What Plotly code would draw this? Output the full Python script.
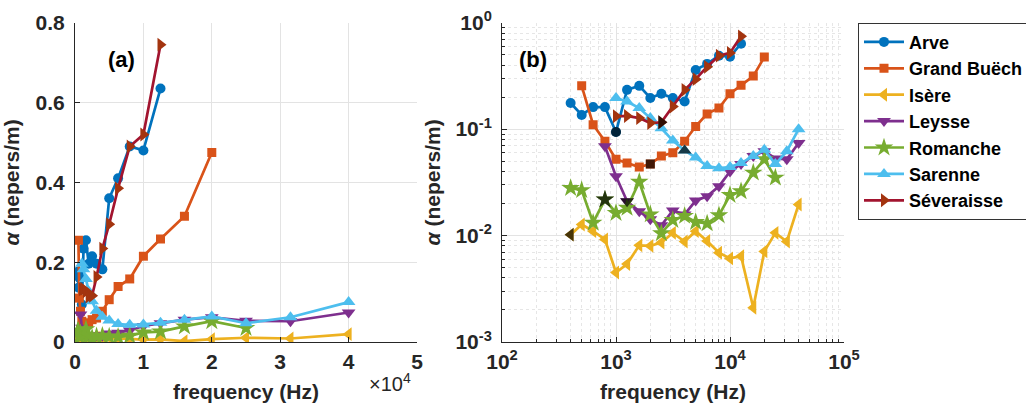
import plotly.graph_objects as go

# ---------------- data ----------------
series_names = ["Arve", "Grand Buëch", "Isère", "Leysse", "Romanche", "Sarenne", "Séveraisse"]

arve_f = [400, 500, 630, 800, 1000, 1250, 1600, 2000, 2500, 3150, 4000, 5000, 6300, 8000, 10000, 12500]
arve_a = [0.176, 0.136, 0.161, 0.161, 0.094, 0.234, 0.255, 0.196, 0.215, 0.196, 0.182, 0.36, 0.41, 0.49, 0.48, 0.635]

gbuech_f = [500, 630, 800, 1000, 1250, 1600, 2000, 2500, 3150, 4000, 5000, 6300, 8000, 10000, 12500, 16000, 20000]
gbuech_a = [0.255, 0.110, 0.077, 0.052, 0.048, 0.044, 0.047, 0.056, 0.060, 0.077, 0.106, 0.139, 0.158, 0.215, 0.258, 0.315, 0.475]

isere_f = [400, 500, 630, 800, 1000, 1250, 1600, 2000, 2500, 3150, 4000, 5000, 6300, 8000, 10000, 12500, 16000, 20000, 25000, 31500, 40000]
isere_a = [0.0102, 0.0127, 0.011, 0.0092, 0.0045, 0.0054, 0.0081, 0.0080, 0.0086, 0.0106, 0.0088, 0.011, 0.0089,
           0.0069, 0.0061, 0.0064, 0.0021, 0.0071, 0.0106, 0.0088, 0.0196]

leysse_f = [800, 1000, 1250, 1600, 2000, 2500, 3150, 4000, 5000, 6300, 8000, 10000, 12500, 16000, 20000, 25000, 31500, 40000]
leysse_a = [0.069, 0.036, 0.021, 0.0169, 0.0142, 0.0125, 0.0172, 0.0158, 0.0213, 0.0234, 0.029, 0.040, 0.047, 0.056,
            0.062, 0.053, 0.052, 0.074]

romanche_f = [400, 500, 630, 800, 1000, 1250, 1600, 2000, 2500, 3150, 4000, 5000, 6300, 8000, 10000, 12500, 16000, 20000, 25000]
romanche_a = [0.028, 0.0267, 0.0132, 0.0218, 0.0163, 0.0182, 0.032, 0.0158, 0.0105, 0.014, 0.0153, 0.0134, 0.013,
              0.0155, 0.024, 0.026, 0.039, 0.052, 0.035]

sarenne_f = [1000, 1250, 1600, 2000, 2500, 3150, 4000, 5000, 6300, 8000, 10000, 12500, 16000, 20000, 25000, 31500, 40000]
sarenne_a = [0.196, 0.182, 0.158, 0.127, 0.102, 0.078, 0.063, 0.054, 0.045, 0.043, 0.044, 0.048, 0.056, 0.064, 0.047,
             0.062, 0.100]

sever_f = [1000, 1250, 1600, 2000, 2500, 3150, 4000, 5000, 6300, 8000, 10000, 12500]
sever_a = [0.132, 0.133, 0.127, 0.114, 0.116, 0.163, 0.234, 0.295, 0.385, 0.49, 0.52, 0.745]

# frequency of the highlighted (black) point of each series, panel (b)
highlight_f = [1000, 2000, 400, 1250, 800, 4000, 2500]

lin_xtick_vals = [0, 10000, 20000, 30000, 40000, 50000]
lin_xtick_text = ["0", "1", "2", "3", "4", "5"]
lin_ytick_vals = [0, 0.2, 0.4, 0.6, 0.8]
lin_ytick_text = ["0", "0.2", "0.4", "0.6", "0.8"]
log_xtick_vals = [1e2, 1e3, 1e4, 1e5]
log_xtick_text = ["10<sup>2</sup>", "10<sup>3</sup>", "10<sup>4</sup>", "10<sup>5</sup>"]
log_ytick_vals = [1e-3, 1e-2, 1e-1, 1e0]
log_ytick_text = ["10<sup>-3</sup>", "10<sup>-2</sup>", "10<sup>-1</sup>", "10<sup>0</sup>"]

# ---------------- styles ----------------
freqs = [arve_f, gbuech_f, isere_f, leysse_f, romanche_f, sarenne_f, sever_f]
alphas = [arve_a, gbuech_a, isere_a, leysse_a, romanche_a, sarenne_a, sever_a]
line_colors = ["#0072BD", "#D95319", "#EDB120", "#7E2F8E", "#77AC30", "#4DBEEE", "#A2142F"]
marker_colors = ["#0072BD", "#D95319", "#EDB120", "#7E2F8E", "#77AC30", "#4DBEEE", "#A3340F"]
symbols = ["circle", "square", "triangle-left", "triangle-down", "star", "triangle-up", "triangle-right"]
msizes = [10, 9, 12, 12, 14, 12, 12]

W, H = 1026, 406
ax_l_a, ax_r_a = 75, 417
ax_l_b, ax_r_b = 502, 844
ax_top, ax_bot = 22.7, 342

FONT = "Liberation Sans, Arial, sans-serif"
AXC = "#262626"
GRID = "#E3E3E3"
LW = 2.7

fig = go.Figure()

for panel, (xa, ya) in enumerate([("x", "y"), ("x2", "y2")]):
    for i, name in enumerate(series_names):
        fig.add_trace(go.Scatter(
            x=freqs[i], y=alphas[i], xaxis=xa, yaxis=ya,
            mode="lines+markers", name=name, showlegend=(panel == 0),
            line=dict(color=line_colors[i], width=LW),
            marker=dict(symbol=symbols[i], size=msizes[i], color=marker_colors[i], line=dict(width=0)),
        ))

# black highlighted points in panel (b)
hx, hy = [], []
for i in range(len(series_names)):
    j = freqs[i].index(highlight_f[i])
    hx.append(freqs[i][j])
    hy.append(alphas[i][j])
fig.add_trace(go.Scatter(x=hx, y=hy, xaxis="x2", yaxis="y2", mode="markers", showlegend=False,
                         marker=dict(symbol=symbols, size=msizes, color="black", line=dict(width=0))))

tickfont = dict(family=FONT, size=21, color=AXC, weight="bold")
titlefont = dict(family=FONT, size=21, color=AXC, weight="bold")

ydom = [1 - ax_bot / H, 1 - ax_top / H]

minor_log = dict(ticks="inside", ticklen=3, tickcolor=AXC, showgrid=True, gridcolor="#E6E6E6",
                 griddash="dot", gridwidth=1, dtick="D1")

common_ax = dict(showline=True, linecolor=AXC, linewidth=1, mirror=False,
                 ticks="inside", ticklen=5, tickcolor=AXC,
                 showgrid=True, gridcolor=GRID, zeroline=False, automargin=False,
                 tickfont=tickfont)

fig.update_layout(
    width=W, height=H,
    margin=dict(l=0, r=0, t=0, b=0, autoexpand=False),
    paper_bgcolor="white", plot_bgcolor="white",
    showlegend=True,
    legend=dict(x=858 / W, y=1 - ax_top / H, xanchor="left", yanchor="top",
                bordercolor="#333333", borderwidth=1, bgcolor="white",
                font=dict(family=FONT, size=18, color="black", weight="bold"),
                itemwidth=40, tracegroupgap=0),
    xaxis=dict(domain=[ax_l_a / W, ax_r_a / W], anchor="y", range=[0, 50000],
               tickvals=lin_xtick_vals, ticktext=lin_xtick_text, ticklabelstandoff=1,
               title=dict(text="frequency (Hz)", font=titlefont, standoff=12), **common_ax),
    yaxis=dict(domain=ydom, anchor="x", range=[0, 0.8],
               tickvals=lin_ytick_vals, ticktext=lin_ytick_text, ticklabelstandoff=5,
               title=dict(text="<i>α</i> (nepers/m)", font=titlefont, standoff=11), **common_ax),
    xaxis2=dict(domain=[ax_l_b / W, ax_r_b / W], anchor="y2", type="log", range=[2, 5],
                tickvals=log_xtick_vals, ticktext=log_xtick_text, ticklabelstandoff=1,
                minor=minor_log,
                title=dict(text="frequency (Hz)", font=titlefont, standoff=12), **common_ax),
    yaxis2=dict(domain=ydom, anchor="x2", type="log", range=[-3, 0],
                tickvals=log_ytick_vals, ticktext=log_ytick_text, ticklabelstandoff=5,
                minor=minor_log,
                title=dict(text="<i>α</i> (nepers/m)", font=titlefont, standoff=9), **common_ax),
    annotations=[
        dict(text="(a)", x=106 / W, y=1 - 45 / H, xref="paper", yref="paper", showarrow=False,
             font=dict(family=FONT, size=22, color="black", weight="bold")),
        dict(text="(b)", x=533 / W, y=1 - 45 / H, xref="paper", yref="paper", showarrow=False,
             font=dict(family=FONT, size=22, color="black", weight="bold")),
        dict(text="×10<sup>4</sup>", x=413 / W, y=1 - 382 / H, xref="paper", yref="paper",
             xanchor="right", yanchor="middle", showarrow=False,
             font=dict(family=FONT, size=20, color=AXC)),
    ],
)

fig.write_html("out.html")
